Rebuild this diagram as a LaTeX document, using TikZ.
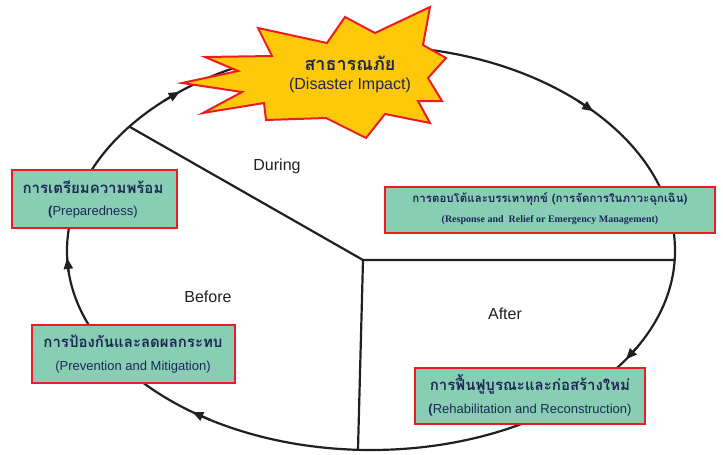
\documentclass[tikz,border=0pt]{standalone}
\usepackage{fontspec}
\setmainfont{Liberation Sans}
\newfontfamily\thai[Script=Thai]{Loma}
\newfontfamily\tms{Liberation Serif}
\usetikzlibrary{arrows.meta}
\definecolor{boxgreen}{RGB}{136,206,180}
\definecolor{boxred}{RGB}{237,28,36}
\definecolor{burst}{RGB}{255,200,10}
\definecolor{navy}{RGB}{30,40,85}
\definecolor{linegray}{RGB}{35,31,32}
\begin{document}
\begin{tikzpicture}[x=1pt,y=-1pt,
  phase/.style={draw=boxred, line width=2.6pt, fill=boxgreen, align=center, text=navy, inner sep=0pt},
  ring/.style={draw=linegray, line width=2.2pt},
  tip/.style={-{Triangle[length=11pt,width=9pt]}, draw=linegray, line width=2.2pt},
  lbl/.style={font=\fontsize{16}{18}\selectfont, text=linegray},
  th/.style={font=\thai\bfseries\fontsize{15}{18}\selectfont},
  en/.style={font=\fontsize{13}{16}\selectfont}]
\useasboundingbox (0,0) rectangle (723,455);
\fill[white] (0,0) rectangle (723,455);
% cycle ring: lower half and (slightly taller) upper half
\draw[ring] (675,251) arc [start angle=0, end angle=180, x radius=304, y radius=199]
  arc [start angle=180, end angle=360, x radius=304, y radius=205];
\foreach \t in {33,126,178}
  \draw[tip] ({371+304*cos(\t-4)},{251+199*sin(\t-4)}) -- ({371+304*cos(\t)},{251+199*sin(\t)});
\foreach \t in {231,317}
  \draw[tip] ({371+304*cos(\t-4)},{251+205*sin(\t-4)}) -- ({371+304*cos(\t)},{251+205*sin(\t)});
% dividing lines
\coordinate (hub) at (363,260);
\coordinate (e1) at (130,127);
\coordinate (e2) at (675,260);
\coordinate (e3) at (358,449);
\draw[ring] (e1) -- (hub) -- (e2);
\draw[ring] (hub) -- (e3);
% starburst
\filldraw[fill=burst, draw=boxred, line width=2pt, line join=miter]
  (205,57) -- (272,56) -- (258,28) -- (327,43) -- (345,17) -- (375,33) -- (430,7)
  -- (423,45) -- (446,58) -- (428,78) -- (442,101) -- (418,101) -- (430,123)
  -- (385,114) -- (366,138) -- (326,118) -- (266,120) -- (264,103) -- (203,113)
  -- (242,92) -- (182,83) -- (238,71) -- cycle;
\node[text=navy, align=center, inner sep=0pt] (impact) at (350,74)
  {{\thai\bfseries\fontsize{18}{20}\selectfont สาธารณภัย}\\[7pt]{\fontsize{16}{18}\selectfont (Disaster Impact)}};
% phase boxes
\node[phase, minimum width=165, minimum height=58] (prep) at (94.5,199) {};
\node[th, text=navy] (prepT) at (93,187) {การเตรียมความพร้อม};
\node[en, text=navy] (prepE) at (93,212) {\textbf{(}Preparedness)};
\node[phase, minimum width=330, minimum height=46] (resp) at (550,210) {};
\node[text=navy, font=\thai\bfseries\fontsize{11.5}{14}\selectfont] (respT) at (550,199) {การตอบโต้และบรรเทาทุกข์ (การจัดการในภาวะฉุกเฉิน)};
\node[text=navy, font=\tms\bfseries\fontsize{10}{12}\selectfont] (respE) at (550,220) {(Response and\ \ Relief or Emergency Management)};
\node[phase, minimum width=203, minimum height=58] (prev) at (133.5,354) {};
\node[th, text=navy] (prevT) at (133,341) {การป้องกันและลดผลกระทบ};
\node[en, text=navy] (prevE) at (133,367) {(Prevention and Mitigation)};
\node[phase, minimum width=230, minimum height=56] (rehab) at (530,396) {};
\node[th, text=navy] (rehabT) at (530,384) {การฟื้นฟูบูรณะและก่อสร้างใหม่};
\node[en, text=navy] (rehabE) at (530,410) {\textbf{(}Rehabilitation and Reconstruction)};
% phase labels
\node[lbl] (during) at (277,166) {During};
\node[lbl] (before) at (208,297) {Before};
\node[lbl] (after) at (505,314) {After};
\end{tikzpicture}
\end{document}
